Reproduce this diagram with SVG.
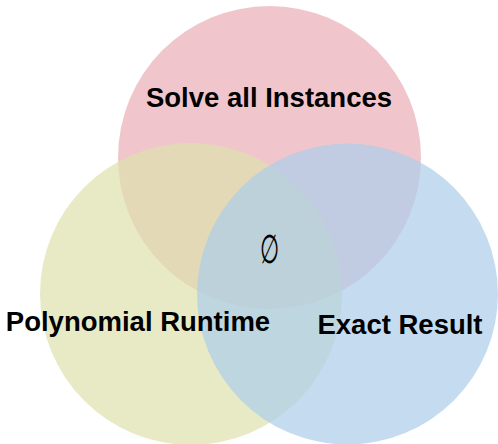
<svg xmlns="http://www.w3.org/2000/svg" width="498" height="444" viewBox="0 0 498 444">
<style>
.set{fill-opacity:0.7;stroke:none}
.lbl{font-family:"Liberation Sans",Arial,sans-serif;font-weight:bold;font-size:27.5px;fill:#000;text-anchor:middle}
.sym{font-family:"DejaVu Serif","Liberation Serif",serif;font-size:40px;fill:#000;text-anchor:middle}
</style>
<rect width="498" height="444" fill="#fff"/>
<g id="solve-all-instances">
<circle class="set" cx="269.5" cy="157.5" r="151.5" fill="#eaaeb6"/>
</g>
<g id="polynomial-runtime">
<circle class="set" cx="191" cy="294" r="151" fill="#dee1ae"/>
</g>
<g id="exact-result">
<circle class="set" cx="347.5" cy="294" r="150.5" fill="#accdea"/>
</g>
<g id="labels">
<text class="lbl" x="269" y="107">Solve all Instances</text>
<text class="lbl" x="138" y="331">Polynomial Runtime</text>
<text class="lbl" x="400" y="334">Exact Result</text>
</g>
<g id="intersection">
<text class="sym" transform="translate(269.5,263) scale(0.55,1)" x="0" y="0">∅</text>
</g>
</svg>
